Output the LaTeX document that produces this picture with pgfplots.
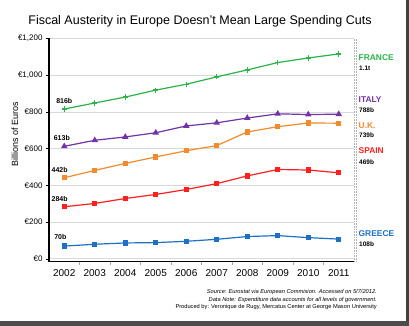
\documentclass[border=0pt]{standalone}
\usepackage{pgfplots}
\pgfplotsset{compat=1.18}
\usepackage{fontspec}
\setmainfont{Liberation Sans}

\definecolor{frgreen}{HTML}{2CB34A}
\definecolor{itpurple}{HTML}{7233A8}
\definecolor{ukorange}{HTML}{F28A2E}
\definecolor{esred}{HTML}{FF1F1F}
\definecolor{grblue}{HTML}{1E6FC6}

\newcommand{\fs}[1]{\fontsize{#1}{#1}\selectfont}

\begin{document}
\begin{tikzpicture}[x=1pt,y=1pt]
\path[use as bounding box, fill=white] (0,0) rectangle (409,326);
% frame shadow
\fill[black!75] (406,0) rectangle (409,326);
\fill[black!70] (0,0) rectangle (409,4.5);

\begin{axis}[
  at={(49pt,64.3pt)}, anchor=south west,
  scale only axis, width=305pt, height=223.2pt,
  xmin=2001.5, xmax=2011.5, ymin=-15, ymax=1200,
  axis x line*=bottom, axis y line*=left,
  axis line style={black, line width=1.1pt, -},
  xtick={2002,2003,2004,2005,2006,2007,2008,2009,2010,2011},
  xticklabels={2002,2003,2004,2005,2006,2007,2008,2009,2010,2011},
  minor xtick={2002.5,2003.5,2004.5,2005.5,2006.5,2007.5,2008.5,2009.5,2010.5},
  ytick={0,200,400,600,800,1000,1200},
  yticklabels={€0,€200,€400,€600,€800,{€1,000},{€1,200}},
  tick align=outside,
  major tick length=3pt, minor tick length=3pt,
  major x tick style={draw=none},
  minor x tick style={gray!70, line width=0.4pt},
  major y tick style={black, line width=0.5pt},
  xticklabel style={font=\fs{10}, yshift=-1pt},
  yticklabel style={font=\fs{8}},
  ymajorgrids, grid style={gray!30, line width=0.9pt},
  clip=false,
  every axis plot/.append style={line width=1.2pt},
]
% right edge of the plot area
\draw[gray!60, densely dotted, line width=0.6pt] (rel axis cs:1,0) -- (rel axis cs:1,1);
\draw[gray!60, densely dotted, line width=0.6pt] ([xshift=2pt]rel axis cs:1,0) -- ([xshift=2pt]rel axis cs:1,1);

% France
\addplot[frgreen, mark=+, mark size=2.6pt, mark options={line width=1.4pt}] coordinates {
  (2002,816) (2003,849) (2004,881) (2005,919) (2006,951)
  (2007,991) (2008,1029) (2009,1069) (2010,1094) (2011,1116)};
% Italy
\addplot[itpurple, mark=triangle*, mark size=2.6pt] coordinates {
  (2002,613) (2003,646) (2004,664) (2005,687) (2006,724)
  (2007,741) (2008,767) (2009,790) (2010,786) (2011,788)};
% U.K.
\addplot[ukorange, mark=square*, mark size=2pt] coordinates {
  (2002,442) (2003,482) (2004,520) (2005,555) (2006,589)
  (2007,617) (2008,691) (2009,720) (2010,740) (2011,739)};
% Spain
\addplot[esred, mark=square*, mark size=2pt] coordinates {
  (2002,284) (2003,302) (2004,329) (2005,351) (2006,378)
  (2007,410) (2008,452) (2009,487) (2010,484) (2011,469)};
% Greece
\addplot[grblue, mark=square*, mark size=2pt] coordinates {
  (2002,70) (2003,80) (2004,87) (2005,89) (2006,96)
  (2007,107) (2008,122) (2009,127) (2010,116) (2011,108)};

% starting values
\node[font=\fs{7}\bfseries, anchor=south] at (axis cs:2002,816) [yshift=2pt] {816b};
\node[font=\fs{7}\bfseries, anchor=south] at (axis cs:2001.92,613) [yshift=2pt] {613b};
\node[font=\fs{7}\bfseries, anchor=south] at (axis cs:2001.85,442) [yshift=2pt] {442b};
\node[font=\fs{7}\bfseries, anchor=south] at (axis cs:2001.85,284) [yshift=2pt] {284b};
\node[font=\fs{7}\bfseries, anchor=south] at (axis cs:2001.87,70) [yshift=3pt] {70b};
\end{axis}

% title
\node[font=\fs{12.5}] at (200,304.3) {Fiscal Austerity in Europe Doesn{\char"0027}t Mean Large Spending Cuts};
% y label
\node[font=\fs{9}, rotate=90] at (15,191.7) {Billions of Euros};

% series names and 2011 values
\node[font=\fs{8.4}\bfseries, text=frgreen, anchor=west, inner sep=0] at (358.5,268.3) {FRANCE};
\node[font=\fs{6.5}\bfseries, anchor=west, inner sep=0] at (359,257.7) {1.1t};
\node[font=\fs{8.4}\bfseries, text=itpurple, anchor=west, inner sep=0] at (358.5,226) {ITALY};
\node[font=\fs{6.5}\bfseries, anchor=west, inner sep=0] at (359,216) {788b};
\node[font=\fs{8.4}\bfseries, text=ukorange, anchor=west, inner sep=0] at (358.5,200.7) {U.K.};
\node[font=\fs{6.5}\bfseries, anchor=west, inner sep=0] at (359,190.7) {739b};
\node[font=\fs{8.4}\bfseries, text=esred, anchor=west, inner sep=0] at (358.5,175) {SPAIN};
\node[font=\fs{6.5}\bfseries, anchor=west, inner sep=0] at (359,163.7) {469b};
\node[font=\fs{8.4}\bfseries, text=grblue, anchor=west, inner sep=0] at (358.5,92) {GREECE};
\node[font=\fs{6.5}\bfseries, anchor=west, inner sep=0] at (359,82) {108b};

% notes
\node[font=\fs{5.7}\itshape, anchor=east, inner sep=0] at (377,33.7) {Source: Eurostat via European Commision. Accessed on 5/7/2012.};
\node[font=\fs{5.7}\itshape, anchor=east, inner sep=0] at (377,26) {Data Note: Expenditure data accounts for all levels of government.};
\node[font=\fs{5.7}, anchor=east, inner sep=0] at (377,19) {Produced by: Veronique de Rugy, Mercatus Center at George Mason University};
\end{tikzpicture}
\end{document}
